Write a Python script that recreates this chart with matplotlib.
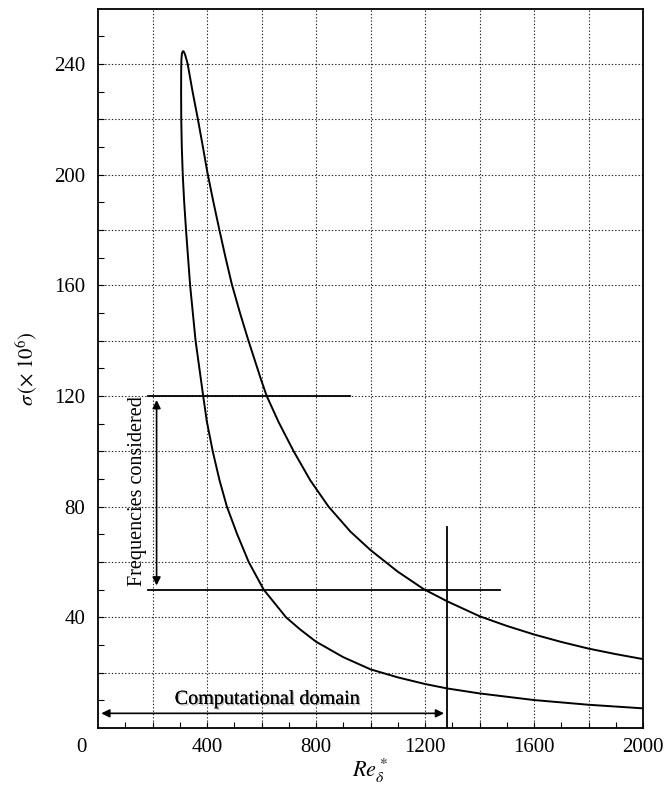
import matplotlib
matplotlib.use("Agg")
import matplotlib.pyplot as plt
import matplotlib.patheffects as pe
import numpy as np

plt.rcParams['font.family'] = ['Liberation Serif', 'DejaVu Serif']
plt.rcParams['mathtext.fontset'] = 'stix'

# Neutral curve: branch A (steep branch, lower sigma at large Re), from far end up to the nose
branchA_re = [2000, 1800, 1600, 1400, 1281, 1200, 1100, 1000, 900, 800, 742, 690, 645, 608, 553,
              510, 473, 446, 421, 399, 386, 358, 338, 323, 316, 311, 307.5, 305.5, 305, 305.3,
              306.2, 308, 310.5, 313]
branchA_sigma = [7.1, 8.4, 10.1, 12.5, 14.3, 15.9, 18.3, 21.2, 25.6, 31.2, 35.6, 40.0, 45.5, 50.0, 60.0,
                 70.2, 80.0, 89.5, 100.0, 111.0, 120.0, 140.0, 160.0, 180.0, 190.5, 200.0, 210.0, 220.0,
                 230.0, 238.0, 241.8, 243.7, 244.4, 244.6]
# Branch B (upper branch), from the nose down to far end
branchB_re = [313, 316, 320, 324, 329, 347, 366, 384, 401, 423, 445, 468, 491, 521, 552, 599, 619,
              663, 718, 779, 846, 926, 1000, 1100, 1195, 1281, 1400, 1500, 1600, 1700, 1800, 1900, 2000]
branchB_sigma = [244.6, 244.2, 243.2, 241.8, 240.0, 230.0, 220.3, 210.5, 201.0, 190.3, 180.2, 170.0,
                 160.4, 150.0, 140.0, 125.7, 120.0, 110.5, 100.0, 89.5, 80.0, 71.0, 64.3, 56.5, 50.2,
                 45.8, 40.4, 36.9, 33.8, 31.1, 28.7, 26.7, 24.9]

freq_high = 120
freq_low = 50
freq_line_high_re = [184, 926]
freq_line_low_re = [184, 1476]
freq_arrow_re = 215
domain_end_re = 1280
domain_line_top = 72.5
domain_arrow_start = 12
domain_arrow_sigma = 5.3

x_ticks = [400, 800, 1200, 1600, 2000]
y_ticks = [40, 80, 120, 160, 200, 240]

fig = plt.figure(figsize=(6.65, 7.95), dpi=100)
ax = fig.add_axes([98/665, 1-728/795, 545/665, (728-8.5)/795])

ax.set_xlim(0, 2000)
ax.set_ylim(0, 260)

# grid
for gx in range(200, 2000, 200):
    ax.axvline(gx, color='#222222', lw=0.8, ls=(0, (1.2, 1.8)), zorder=1)
for gy in range(20, 260, 20):
    ax.axhline(gy, color='#222222', lw=0.8, ls=(0, (1.2, 1.8)), zorder=1)

ax.plot(branchA_re + branchB_re, branchA_sigma + branchB_sigma, color='black', lw=1.4, zorder=3,
        solid_joinstyle='round')

# frequency lines
ax.plot(freq_line_high_re, [freq_high, freq_high], color='black', lw=1.3, zorder=3)
ax.plot(freq_line_low_re, [freq_low, freq_low], color='black', lw=1.3, zorder=3)
ax.annotate('', xy=(freq_arrow_re, freq_high - 1.5), xytext=(freq_arrow_re, freq_low + 1.5),
            arrowprops=dict(arrowstyle='<|-|>', color='black', lw=1.2, mutation_scale=12,
                            shrinkA=0, shrinkB=0), zorder=3)
ax.text(freq_arrow_re - 70, (freq_high + freq_low) / 2 + 0.5, 'Frequencies considered', rotation=90,
        ha='center', va='center', fontsize=14.5, zorder=4)

# computational domain
ax.plot([domain_end_re, domain_end_re], [0, domain_line_top], color='black', lw=1.3, zorder=3)
ax.annotate('', xy=(domain_arrow_start, domain_arrow_sigma), xytext=(domain_end_re - 10, domain_arrow_sigma),
            arrowprops=dict(arrowstyle='<|-|>', color='black', lw=1.2, mutation_scale=12,
                            shrinkA=0, shrinkB=0), zorder=3)
ax.text(620, 10.3, 'Computational domain', ha='center', va='center', fontsize=14.5, zorder=4,
        path_effects=[pe.withSimplePatchShadow(offset=(1, -1), shadow_rgbFace='#888888', alpha=0.6),
                      pe.Normal()])

# ticks
ax.set_xticks(x_ticks)
ax.set_yticks(y_ticks)
ax.set_xticks(np.arange(100, 2000, 100), minor=True)
ax.set_yticks(np.arange(10, 260, 10), minor=True)
ax.tick_params(axis='both', which='both', direction='in', top=False, right=False)
ax.tick_params(axis='both', which='major', length=4, width=0.8, labelsize=15)
ax.tick_params(axis='both', which='minor', length=4, width=0.8)
ax.tick_params(axis='x', which='major', pad=7)
ax.tick_params(axis='y', which='major', pad=9)
ax.annotate('0', xy=(0, 0), xycoords='data', xytext=(-12, -7), textcoords='offset points',
            ha='center', va='top', fontsize=15)

for sp in ax.spines.values():
    sp.set_linewidth(1.3)

ax.set_xlabel(r'$Re^*_\delta$', fontsize=16, labelpad=0)
ax.set_ylabel(r'$\sigma\,(\times\;10^6)$', fontsize=15, labelpad=10)

fig.savefig('out.png', dpi=100)
